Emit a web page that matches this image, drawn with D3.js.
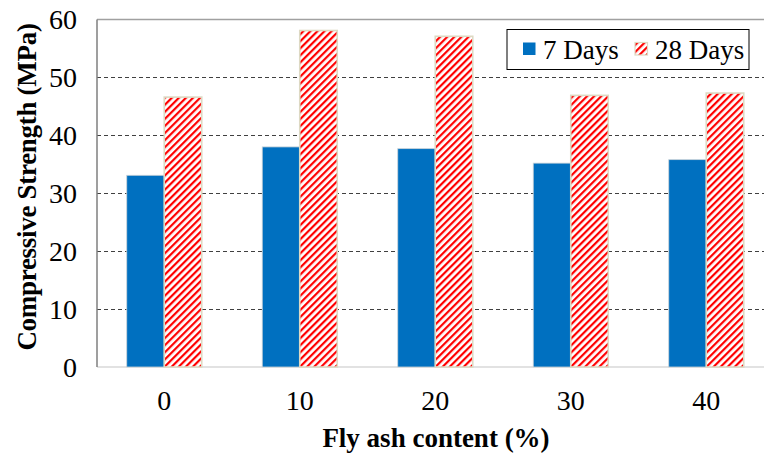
<!DOCTYPE html>
<html>
<head>
<meta charset="utf-8">
<script src="https://cdn.jsdelivr.net/npm/d3@7"></script>
<style>
  body { margin: 0; background: #fff; }
  svg { display: block; font-family: "Liberation Serif", "Times New Roman", serif; }
</style>
</head>
<body>
<div id="chart"></div>
<script>
// data
var categories = ["0", "10", "20", "30", "40"];
var seriesNames = ["7 Days", "28 Days"];
var days7 = [33.1, 38.0, 37.7, 35.2, 35.8];
var days28 = [46.6, 58.1, 57.1, 46.9, 47.3];
var yTicks = [0, 10, 20, 30, 40, 50, 60];

var W = 764, H = 455;
var plotLeft = 97, plotTop = 19.5, plotBottom = 367;
var step = 135.5;

var svg = d3.select("#chart").append("svg")
  .attr("width", W)
  .attr("height", H);

// hatch for 28 days
var defs = svg.append("defs");
var pat = defs.append("pattern")
  .attr("id", "hatch")
  .attr("patternUnits", "userSpaceOnUse")
  .attr("width", 5)
  .attr("height", 5)
  .attr("patternTransform", "rotate(45)");
pat.append("rect").attr("width", 5).attr("height", 5).attr("fill", "#fff");
pat.append("rect").attr("width", 2.2).attr("height", 5).attr("fill", "#ff0000");

var x = d3.scaleBand()
  .domain(categories)
  .range([plotLeft - 0.5, plotLeft - 0.5 + step * categories.length])
  .padding(0);

var groupW = 75;
var x1 = d3.scaleBand()
  .domain(seriesNames)
  .range([0, groupW]);

var y = d3.scaleLinear()
  .domain([0, 60])
  .range([plotBottom, plotTop]);

// gridlines
svg.append("g")
  .selectAll("line")
  .data(yTicks.filter(function(d) { return d > 0 && d < 60; }))
  .enter().append("line")
  .attr("x1", plotLeft)
  .attr("x2", W)
  .attr("y1", function(d) { return Math.round(y(d)) + 0.5; })
  .attr("y2", function(d) { return Math.round(y(d)) + 0.5; })
  .attr("stroke", "#404040")
  .attr("stroke-width", 1)
  .attr("stroke-dasharray", "4,3");

// plot frame (top), bottom axis line
svg.append("line")
  .attr("x1", plotLeft).attr("x2", W)
  .attr("y1", plotTop).attr("y2", plotTop)
  .attr("stroke", "#a0a0a0").attr("stroke-width", 1.5);
svg.append("line")
  .attr("x1", plotLeft).attr("x2", W)
  .attr("y1", plotBottom).attr("y2", plotBottom)
  .attr("stroke", "#d9d9d9").attr("stroke-width", 1.5);

// bars
var rows = categories.map(function(c, i) {
  return { cat: c, vals: [days7[i], days28[i]] };
});
var fills = ["#0070c0", "url(#hatch)"];

var groups = svg.append("g")
  .selectAll("g")
  .data(rows)
  .enter().append("g")
  .attr("transform", function(d) {
    return "translate(" + (x(d.cat) + (x.bandwidth() - groupW) / 2) + ",0)";
  });

groups.selectAll("rect")
  .data(function(d) {
    return d.vals.map(function(v, j) { return { key: seriesNames[j], v: v, j: j }; });
  })
  .enter().append("rect")
  .attr("x", function(d) { return x1(d.key); })
  .attr("width", x1.bandwidth())
  .attr("y", function(d) { return y(d.v); })
  .attr("height", function(d) { return plotBottom - y(d.v); })
  .attr("fill", function(d) { return fills[d.j]; })
  .attr("stroke", function(d) { return d.j === 0 ? "#c8d2d8" : "#ddd9c3"; })
  .attr("stroke-width", function(d) { return d.j === 0 ? 0.8 : 1.6; });

// left axis line
svg.append("line")
  .attr("x1", plotLeft).attr("x2", plotLeft)
  .attr("y1", plotTop).attr("y2", plotBottom)
  .attr("stroke", "#7f7f7f").attr("stroke-width", 1.5);

// y tick labels
svg.append("g")
  .selectAll("text")
  .data(yTicks)
  .enter().append("text")
  .attr("x", 77)
  .attr("y", function(d) { return y(d) + 9.5; })
  .attr("text-anchor", "end")
  .attr("font-size", 28)
  .attr("fill", "#000")
  .text(function(d) { return d; });

// x tick labels
svg.append("g")
  .selectAll("text")
  .data(categories)
  .enter().append("text")
  .attr("x", function(d) { return x(d) + x.bandwidth() / 2; })
  .attr("y", 410)
  .attr("text-anchor", "middle")
  .attr("font-size", 28)
  .attr("fill", "#000")
  .text(function(d) { return d; });

// axis titles
svg.append("text")
  .attr("transform", "translate(36,187) rotate(-90)")
  .attr("text-anchor", "middle")
  .attr("font-size", 27)
  .attr("font-weight", "bold")
  .attr("letter-spacing", -0.3)
  .text("Compressive Strength (MPa)");

svg.append("text")
  .attr("x", 436)
  .attr("y", 447)
  .attr("text-anchor", "middle")
  .attr("font-size", 27)
  .attr("font-weight", "bold")
  .text("Fly ash content (%)");

// legend
var lg = svg.append("g").attr("transform", "translate(507,29.5)");
lg.append("rect")
  .attr("width", 242)
  .attr("height", 40)
  .attr("fill", "#fff")
  .attr("stroke", "#000")
  .attr("stroke-width", 1);

var legX = [16, 128];
var items = lg.selectAll("g.item")
  .data(seriesNames)
  .enter().append("g")
  .attr("class", "item")
  .attr("transform", function(d, i) { return "translate(" + legX[i] + ",0)"; });
items.append("rect")
  .attr("y", 13)
  .attr("width", 12.5)
  .attr("height", 12.5)
  .attr("fill", function(d, i) { return fills[i]; })
  .attr("stroke", function(d, i) { return i === 0 ? "none" : "#ddd9c3"; })
  .attr("stroke-width", 1.2);
items.append("text")
  .attr("x", 20)
  .attr("y", 29)
  .attr("font-size", 27)
  .attr("fill", "#000")
  .text(function(d) { return d; });
</script>
</body>
</html>
